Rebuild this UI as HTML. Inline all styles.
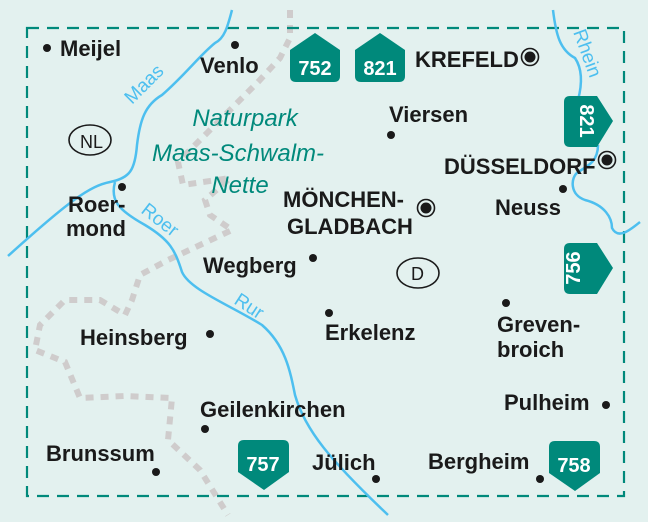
<!DOCTYPE html>
<html><head><meta charset="utf-8"><style>
html,body{margin:0;padding:0;background:#e3f1ef;}
svg{display:block}
.c{font-family:"Liberation Sans",sans-serif;font-size:22px;fill:#1a1a1a;font-weight:bold;}
.n{font-family:"Liberation Sans",sans-serif;font-size:24px;fill:#00897b;font-style:italic;}
.b{font-family:"Liberation Sans",sans-serif;font-size:20px;fill:#fff;font-weight:bold;text-anchor:middle;}
.r{font-family:"Liberation Sans",sans-serif;font-size:19px;fill:#4dbfef;}
</style></head><body>
<svg width="648" height="522" viewBox="0 0 648 522" xmlns="http://www.w3.org/2000/svg">
<rect width="648" height="522" fill="#e3f1ef"/>
<g fill="none" stroke="#cfcccc" stroke-width="6" stroke-dasharray="8,7">
<path d="M290 10 L290 38 L280 58 L258 82 L232 108 L212 128 L195 145 L178 162 L183 185 L230 178 L205 200 L210 215 L232 230 L200 245 L168 260 L140 275 L132 300 L125 315 L100 300 L65 300 L40 325 L35 350 L65 362 L80 398 L125 396 L172 398 L168 440 L200 470 L228 515"/>
</g>
<rect x="27" y="28" width="597" height="468" fill="none" stroke="#00897b" stroke-width="2.2" stroke-dasharray="12,8"/>
<g fill="none" stroke="#4dbfef" stroke-width="2.5">
<path d="M232 10 C228 25 225 38 215 43 C200 55 185 75 162 95 C145 105 140 120 137 145 C135 170 130 178 110 182 C90 186 70 200 8 256"/>
<path d="M115 182 C110 200 118 210 145 225 C170 240 175 250 182 272 C190 290 230 305 262 325 C285 345 290 370 295 395 C305 430 330 460 388 515"/>
<path d="M553 10 C556 35 560 50 575 58 C583 70 582 85 578 100"/>
<path d="M598 145 C598 160 590 165 578 172 C570 178 570 195 585 200 C605 205 612 218 612 228 C618 240 630 230 640 222"/>
</g>
<text class="r" transform="translate(132,105) rotate(-45)">Maas</text>
<text class="r" transform="translate(140,212) rotate(38)">Roer</text>
<text class="r" transform="translate(233,303) rotate(33)">Rur</text>
<text class="r" transform="translate(573,32) rotate(70)">Rhein</text>
<g fill="#1a1a1a">
<circle cx="47" cy="48" r="4"/><circle cx="235" cy="45" r="4"/><circle cx="391" cy="135" r="4"/>
<circle cx="563" cy="189" r="4"/><circle cx="122" cy="187" r="4"/><circle cx="313" cy="258" r="4"/>
<circle cx="210" cy="334" r="4"/><circle cx="329" cy="313" r="4"/><circle cx="506" cy="303" r="4"/>
<circle cx="606" cy="405" r="4"/><circle cx="205" cy="429" r="4"/><circle cx="156" cy="472" r="4"/>
<circle cx="376" cy="479" r="4"/><circle cx="540" cy="479" r="4"/>
</g>
<g fill="none" stroke="#1a1a1a" stroke-width="1.6">
<circle cx="530" cy="57" r="8.5"/><circle cx="607" cy="160" r="8.5"/><circle cx="426" cy="208" r="8.5"/>
<ellipse cx="90" cy="140" rx="21" ry="15"/><ellipse cx="418" cy="273" rx="21" ry="15"/>
</g>
<g fill="#1a1a1a"><circle cx="530" cy="57" r="5.5"/><circle cx="607" cy="160" r="5.5"/><circle cx="426" cy="208" r="5.5"/></g>
<text x="80" y="148" font-family="Liberation Sans" font-size="18" fill="#1a1a1a">NL</text>
<text x="411" y="280" font-family="Liberation Sans" font-size="18" fill="#1a1a1a">D</text>
<text class="c" x="60" y="56">Meijel</text>
<text class="c" x="200" y="73">Venlo</text>
<text class="c" x="415" y="67">KREFELD</text>
<text class="c" x="389" y="122">Viersen</text>
<text class="c" x="444" y="174">DÜSSELDORF</text>
<text class="c" x="495" y="215">Neuss</text>
<text class="c" x="283" y="207">MÖNCHEN-</text>
<text class="c" x="287" y="234">GLADBACH</text>
<text class="c" x="68" y="212">Roer-</text>
<text class="c" x="66" y="236">mond</text>
<text class="c" x="203" y="273">Wegberg</text>
<text class="c" x="80" y="345">Heinsberg</text>
<text class="c" x="325" y="340">Erkelenz</text>
<text class="c" x="497" y="332">Greven-</text>
<text class="c" x="497" y="357">broich</text>
<text class="c" x="504" y="410">Pulheim</text>
<text class="c" x="200" y="417">Geilenkirchen</text>
<text class="c" x="46" y="461">Brunssum</text>
<text class="c" x="312" y="470">Jülich</text>
<text class="c" x="428" y="469">Bergheim</text>
<text class="n" x="245" y="126" text-anchor="middle">Naturpark</text>
<text class="n" x="238" y="161" text-anchor="middle">Maas-Schwalm-</text>
<text class="n" x="240" y="193" text-anchor="middle">Nette</text>
<g fill="#00897b">
<path d="M290 50 L315 33 L340 50 L340 76 Q340 82 334 82 L296 82 Q290 82 290 76 Z"/>
<path d="M355 50 L380 33 L405 50 L405 76 Q405 82 399 82 L361 82 Q355 82 355 76 Z"/>
<path d="M564 102 Q564 96 570 96 L597 96 L613 121 L597 147 L570 147 Q564 147 564 141 Z"/>
<path d="M564 249 Q564 243 570 243 L597 243 L613 268 L597 294 L570 294 Q564 294 564 288 Z"/>
<path d="M238 446 Q238 440 244 440 L283 440 Q289 440 289 446 L289 472 L264 490 L238 472 Z"/>
<path d="M549 447 Q549 441 555 441 L594 441 Q600 441 600 447 L600 473 L575 491 L549 473 Z"/>
</g>
<text class="b" x="315" y="75">752</text>
<text class="b" x="380" y="75">821</text>
<text class="b" x="263" y="471">757</text>
<text class="b" x="574" y="472">758</text>
<text class="b" transform="translate(580,121) rotate(90)">821</text>
<text class="b" transform="translate(580,268) rotate(-90)">756</text>
</svg>
</body></html>
